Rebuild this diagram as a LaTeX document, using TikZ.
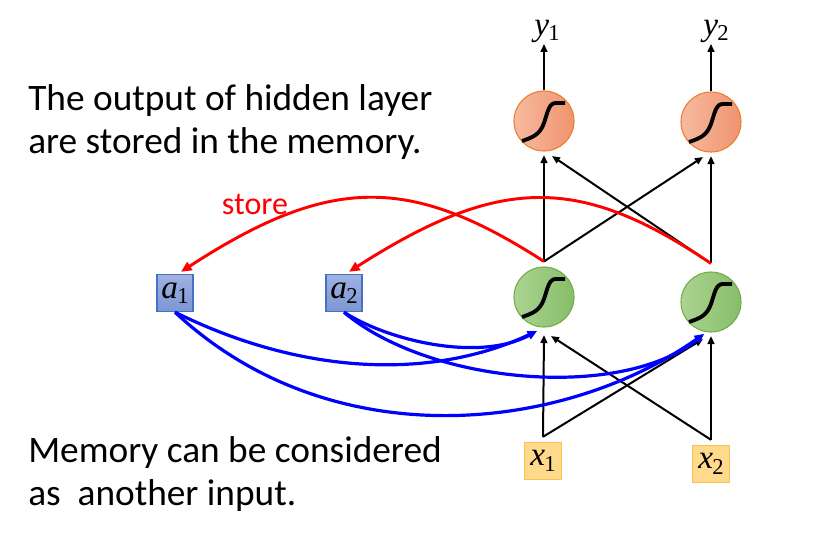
\documentclass[tikz,border=0pt]{standalone}
\usepackage{fontspec}
\setmainfont{Carlito}
\newfontfamily\tnrfont{Liberation Serif}
\usetikzlibrary{arrows.meta,calc}

\definecolor{outLeft}{RGB}{246,186,160}
\definecolor{outRight}{RGB}{240,148,110}
\definecolor{outLine}{RGB}{237,125,49}
\definecolor{hidLeft}{RGB}{172,211,146}
\definecolor{hidRight}{RGB}{134,190,104}
\definecolor{hidLine}{RGB}{112,173,71}
\definecolor{memTop}{RGB}{160,178,226}
\definecolor{memBot}{RGB}{124,149,210}
\definecolor{memLine}{RGB}{68,114,196}
\definecolor{inFill}{RGB}{255,217,140}
\definecolor{inLine}{RGB}{250,192,80}

% letter with upright subscript, as in the slide
\newcommand{\vlab}[2]{{\tnrfont\fontsize{25}{25}\selectfont\itshape #1\kern-0.5pt\raisebox{-0.35ex}{\upshape\fontsize{17}{17}\selectfont #2}}}

\begin{document}
\begin{tikzpicture}[x=0.75pt,y=0.75pt,yscale=-1,xscale=1,
    neuronOut/.style={circle,minimum size=45pt,inner sep=0pt,draw=outLine,line width=0.8pt,left color=outLeft,right color=outRight},
    neuronHid/.style={circle,minimum size=45pt,inner sep=0pt,draw=hidLine,line width=0.8pt,left color=hidLeft,right color=hidRight},
    memBox/.style={rectangle,minimum width=27pt,minimum height=28pt,inner sep=0pt,draw=memLine,line width=0.8pt,top color=memTop,bottom color=memBot},
    inBox/.style={rectangle,minimum width=28pt,minimum height=28pt,inner sep=0pt,draw=inLine,line width=0.8pt,fill=inFill},
    sigm/.style={line width=2.9pt,black},
    wire/.style={line width=1.5pt,black,-{Triangle[length=6pt,width=5pt]}},
    storeArr/.style={line width=2.2pt,red,-{Triangle[length=8pt,width=7pt]}},
    memArr/.style={line width=2.4pt,blue,-{Triangle[length=7pt,width=6pt]}},
    note/.style={anchor=north west,inner sep=0pt,align=left,font=\fontsize{28}{32.5}\selectfont}
  ]
  \useasboundingbox (0,0) rectangle (822,540);

  % Text Node
  \node[note] (topnote) at (28,84) {The output of hidden layer\\are stored in the memory.};
  % Text Node
  \node[note] (botnote) at (28,436) {Memory can be considered\\as~~another input.};

  % neurons
  \node[neuronOut] (o1) at (544,121) {};
  \node[neuronOut] (o2) at (711,122) {};
  \node[neuronHid] (h1) at (544,297) {};
  \node[neuronHid] (h2) at (711,302) {};
  \foreach \n in {o1,o2,h1,h2}
    \draw[sigm] ($(\n)+(-22,20)$) .. controls ($(\n)+(-10,16)$) and ($(\n)+(-4,13)$) .. ($(\n)+(0,2)$) .. controls ($(\n)+(4,-10)$) and ($(\n)+(5,-18)$) .. ($(\n)+(12,-18)$) -- ($(\n)+(21,-18)$);

  % inputs and memory
  \node[inBox] (x1) at (543,461) {\vlab{x}{1}};
  \node[inBox] (x2) at (711,464) {\vlab{x}{2}};
  \node[memBox] (a1) at (175,293) {\vlab{a}{1}};
  \node[memBox] (a2) at (344,293) {\vlab{a}{2}};

  % outputs
  \node[inner sep=1pt] (y1) at (547,31) {\vlab{y}{1}};
  \node[inner sep=1pt] (y2) at (716,31) {\vlab{y}{2}};
  \draw[wire] (o1.north) -- (o1.north |- y1.south);
  \draw[wire] (o2.north) -- (o2.north |- y2.south);

  % points the wires leave from
  \coordinate (ht1) at ($(h1.north)+(0,-5)$);
  \coordinate (ht2) at ($(h2.north)+(0,-8)$);
  \coordinate (xt1) at ($(x1.north)+(0,-5)$);
  \coordinate (xt2) at ($(x2.north)+(0,-5)$);

  % hidden -> output
  \draw[wire] (ht1) -- ($(o1)+(0,34)$);
  \draw[wire] (ht1) -- ($(o2)+(-8,35)$);
  \draw[wire] (ht2) -- ($(o2)+(0,34)$);
  \draw[wire] (ht2) -- ($(o1)+(8,35)$);

  % input -> hidden
  \draw[wire] (xt1) -- ($(h1)+(0,38)$);
  \draw[wire] (xt1) -- ($(h2)+(-8,37)$);
  \draw[wire] (xt2) -- ($(h2)+(0,34)$);
  \draw[wire] (xt2) -- ($(h1)+(7,39)$);

  % store
  \draw[storeArr] (ht1) .. controls (410,175) and (330,175) .. ($(a1.north)+(6,-2)$);
  \draw[storeArr] (ht2) .. controls (580,175) and (500,175) .. ($(a2.north)+(5,-2)$);
  \node[text=red,inner sep=0pt,font=\fontsize{24}{24}\selectfont] (store) at (255,204) {store};

  % memory -> hidden
  \draw[memArr] (a1.south) .. controls +(125,62) and +(-107,50) .. ($(h1)+(-7,34)$);
  \draw[memArr] (a1.south) .. controls +(155,145) and +(-143,100) .. ($(h2)+(-7,32)$);
  \draw[memArr] (a2.south) .. controls +(45,29) and +(-57,31) .. ($(h1)+(-7,34)$);
  \draw[memArr] (a2.south) .. controls +(85,72) and +(-83,67) .. ($(h2)+(-7,32)$);

\end{tikzpicture}
\end{document}
